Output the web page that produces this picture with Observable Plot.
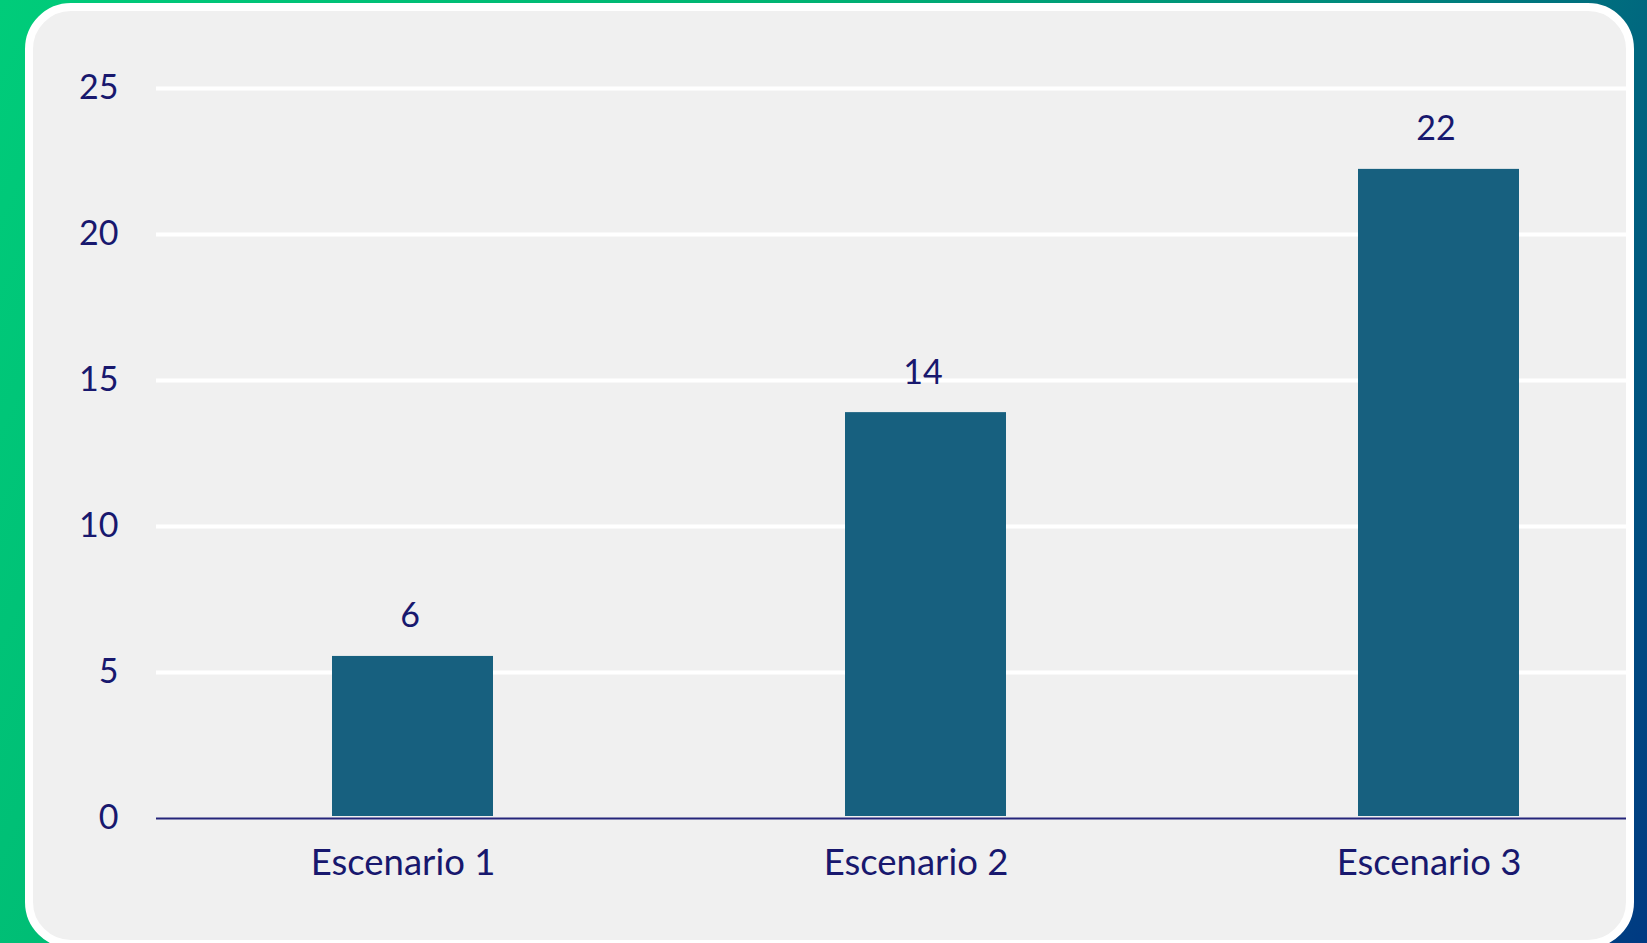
<!DOCTYPE html>
<html><head><meta charset="utf-8">
<script src="https://cdn.jsdelivr.net/npm/d3@7"></script>
<script src="https://cdn.jsdelivr.net/npm/@observablehq/plot@0.6"></script>
<style>
html,body{margin:0;padding:0;width:1647px;height:943px;overflow:hidden;}
body{background:linear-gradient(115deg,#00cc7a 0%,#00b472 38%,#008a7c 65%,#005a80 85%,#003a82 100%);position:relative;font-family:Lato,sans-serif}
#card{position:absolute;left:25px;top:3px;width:1593px;height:929px;border:8px solid #fff;border-radius:46px;background:#f0f0f0;overflow:hidden;box-sizing:content-box}
#chart{position:absolute;left:-33px;top:-11px;width:1700px;height:943px}
#chart svg{max-width:none!important;display:block}
</style></head><body><div id="card"><div id="chart"></div></div>
<script>
const categories = ["Escenario 1", "Escenario 2", "Escenario 3"];
const values = [5.55, 13.9, 22.23];
const valueLabels = ["6", "14", "22"];
const yTicks = [0, 5, 10, 15, 20, 25];

const data = categories.map((c, i) => ({cat: c, value: values[i], label: valueLabels[i]}));
const navy = "#18186e";

const chart = Plot.plot({
  width: 1700,
  height: 943,
  marginLeft: 156,
  marginRight: 0,
  marginTop: 88,
  marginBottom: 125,
  style: {background: "transparent", fontFamily: "Lato, sans-serif", overflow: "visible", maxWidth: "none"},
  x: {domain: categories, range: [156, 1695], padding: 0, axis: null},
  y: {domain: [0, 25], axis: null},
  marks: [
    Plot.gridY(yTicks.filter(v => v > 0), {stroke: "#ffffff", strokeOpacity: 1, strokeWidth: 4}),
    Plot.axisY(yTicks, {tickSize: 0, tickPadding: 38, fontSize: 34, fill: navy, label: null, textAnchor: "end"}),
    Plot.barY(data, {x: "cat", y: "value", fill: "#17607f", insetLeft: 176, insetRight: 176, insetBottom: 2}),
    Plot.ruleY([0], {stroke: "#25257a", strokeWidth: 2}),
    Plot.text(data, {x: "cat", y: "value", text: "label", dy: -40, dx: -3, lineAnchor: "middle", fontSize: 34, fill: navy}),
    Plot.text(data, {x: "cat", y: 0, text: "cat", dy: 45, dx: -10, lineAnchor: "middle", fontSize: 36.5, fill: navy})
  ]
});
document.getElementById("chart").appendChild(chart);
</script>
</body></html>
